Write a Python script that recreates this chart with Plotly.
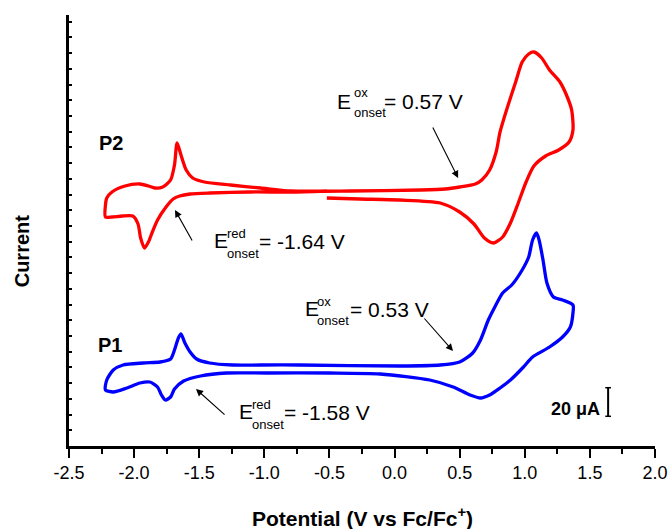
import plotly.graph_objects as go

# ---- data (potential in V vs Fc/Fc+, current in uA with arbitrary offset) ----
P2_V = [-0.52,-0.80,-1.11,-1.42,-1.57,-1.65,-1.70,-1.755,-1.82,-1.86,-1.89,-1.92,-1.95,-1.97,-2.01,-2.09,-2.17,-2.22,-2.22,-2.21,
        -2.17,-2.07,-1.955,-1.89,-1.84,-1.78,-1.72,-1.69,-1.67,-1.64,-1.60,-1.55,-1.46,-1.26,-1.03,-0.80,-0.34,0.20,0.39,0.50,
        0.62,0.67,0.73,0.78,0.81,0.86,0.93,0.98,1.03,1.07,1.13,1.19,1.27,1.32,1.36,1.37,1.34,1.26,1.16,1.07,
        1.01,0.95,0.89,0.83,0.76,0.69,0.61,0.50,0.35,0.04,-0.27,-0.52]
P2_I = [178.5,177.8,177.8,177.1,176.4,175.0,172.9,167.3,158.2,149.8,142.8,138.6,145.6,155.4,161.0,161.0,160.3,160.3,168.7,173.6,
        177.8,182.0,183.4,182.0,180.6,181.3,186.2,196.7,212.1,203.7,193.2,187.6,184.8,182.7,180.6,178.5,178.5,179.2,179.9,181.3,
        183.4,186.2,193.2,205.8,219.8,235.2,254.8,268.8,274.4,275.8,271.6,263.2,254.8,245.7,235.2,221.2,212.8,207.2,203.0,196.0,
        184.8,170.1,156.1,146.3,142.1,145.6,155.4,163.8,170.1,172.2,172.9,173.6]

P1_V = [-0.73,-1.03,-1.24,-1.42,-1.52,-1.57,-1.61,-1.64,-1.66,-1.69,-1.72,-1.80,-1.93,-2.085,-2.16,-2.21,-2.22,-2.16,-2.055,-1.955,
        -1.88,-1.82,-1.79,-1.76,-1.72,-1.69,-1.62,-1.49,-1.29,-0.98,-0.50,-0.11,0.27,0.45,0.58,0.66,0.73,0.81,0.89,0.99,
        1.06,1.19,1.29,1.35,1.37,1.37,1.29,1.22,1.17,1.14,1.11,1.09,1.06,1.03,0.98,0.90,0.83,0.77,0.72,0.66,
        0.60,0.50,0.35,0.04,-0.73]
P1_I = [56.7,56.7,56.7,58.1,60.9,65.8,72.1,78.4,75.6,67.2,60.9,58.8,58.1,56.7,53.2,46.2,39.2,37.8,40.6,44.1,
        44.8,41.3,35.7,32.2,34.3,39.9,45.5,49.0,51.1,51.1,51.1,50.4,46.2,41.3,35.7,33.6,35.7,40.6,46.2,55.3,
        62.3,69.3,76.3,83.3,93.1,98.7,102.2,104.3,114.1,130.2,144.2,149.1,144.2,132.3,123.2,112.7,107.1,97.3,88.2,74.2,
        65.1,58.8,56.7,56.0,56.7]

X_TICKS = [-2.5, -2.0, -1.5, -1.0, -0.5, 0.0, 0.5, 1.0, 1.5, 2.0]
X_TICK_LABELS = ["-2.5", "-2.0", "-1.5", "-1.0", "-0.5", "0.0", "0.5", "1.0", "1.5", "2.0"]

SCALE_BAR_UA = 20

FONT = "Liberation Sans, Arial, sans-serif"

fig = go.Figure()
fig.add_trace(go.Scatter(x=P2_V, y=P2_I, mode="lines", name="P2",
                         line=dict(color="rgb(255,0,0)", width=3.3, shape="spline", smoothing=0.7)))
fig.add_trace(go.Scatter(x=P1_V, y=P1_I, mode="lines", name="P1",
                         line=dict(color="rgb(0,0,255)", width=3.3, shape="spline", smoothing=0.7)))

ann = []
def txt(x, y, s, size, bold=False, xanchor="left"):
    ann.append(dict(x=x, y=y, xref="x", yref="y", text=("<b>%s</b>" % s) if bold else s,
                    showarrow=False, xanchor=xanchor, yanchor="middle",
                    font=dict(family=FONT, size=size, color="black")))

def onset(xE, yE, xs, ysup, ysub, xm, ym, sup, value):
    txt(xE, yE, "E", 21)
    txt(xs, ysup, sup, 13)
    txt(xs, ysub, "onset", 13)
    txt(xm, ym, "= %s" % value, 21)

onset(-0.457, 241.5, -0.327, 247.8, 233.8, -0.096, 241.3, "ox", "0.57 V")
onset(-1.402, 143.9, -1.302, 148.8, 135.1, -1.056, 143.5, "red", "-1.64 V")
onset(-0.703, 96.6, -0.611, 101.5, 88.2, -0.357, 95.9, "ox", "0.53 V")
onset(-1.21, 24.2, -1.11, 29.4, 15.4, -0.864, 23.8, "red", "-1.58 V")

def arrow(x, y, ax, ay):
    ann.append(dict(x=x, y=y, ax=ax, ay=ay, xref="x", yref="y", axref="x", ayref="y",
                    text="", showarrow=True, arrowhead=2, arrowsize=1.3, arrowwidth=1.1,
                    arrowcolor="black", standoff=0))

arrow(0.488, 187.6, 0.288, 224.0)
arrow(-1.686, 165.2, -1.548, 142.8)
arrow(0.449, 66.5, 0.219, 90.3)
arrow(-1.525, 39.9, -1.294, 21.0)

txt(-2.174, 211.8, "P2", 20, bold=True, xanchor="center")
txt(-2.185, 71.0, "P1", 20, bold=True, xanchor="center")
txt(1.593, 25.9, "%d μA" % SCALE_BAR_UA, 18, bold=True, xanchor="right")

ann.append(dict(x=-0.08, y=0.452, xref="paper", yref="paper", text="<b>Current</b>", textangle=-90,
                showarrow=False, xanchor="center", yanchor="middle",
                font=dict(family=FONT, size=20, color="black")))
ann.append(dict(x=0.5, y=-0.165, xref="paper", yref="paper",
                text="<b>Potential (V vs Fc/Fc<sup>+</sup>)</b>",
                showarrow=False, xanchor="center", yanchor="middle",
                font=dict(family=FONT, size=21, color="black")))

# scale bar
bar_x = 1.64
bar_y0 = 20.8
shapes = [
    dict(type="line", xref="x", yref="y", x0=bar_x, x1=bar_x, y0=bar_y0, y1=bar_y0 + SCALE_BAR_UA,
         line=dict(color="black", width=2)),
    dict(type="line", xref="x", yref="y", x0=bar_x - 0.022, x1=bar_x + 0.022, y0=bar_y0, y1=bar_y0,
         line=dict(color="black", width=1.5)),
    dict(type="line", xref="x", yref="y", x0=bar_x - 0.022, x1=bar_x + 0.022,
         y0=bar_y0 + SCALE_BAR_UA, y1=bar_y0 + SCALE_BAR_UA, line=dict(color="black", width=1.5)),
]

fig.update_layout(
    width=668, height=529,
    margin=dict(l=69, r=13, t=15, b=83, autoexpand=False),
    plot_bgcolor="white", paper_bgcolor="white",
    showlegend=False,
    annotations=ann, shapes=shapes,
    font=dict(family=FONT, color="black"),
)
fig.update_xaxes(range=[-2.5, 2.0], tickmode="array", tickvals=X_TICKS, ticktext=X_TICK_LABELS,
                 ticks="outside", ticklen=9, tickwidth=2.2, tickcolor="black",
                 showline=True, linewidth=2.5, linecolor="black",
                 showgrid=False, zeroline=False, automargin=False,
                 tickfont=dict(family=FONT, size=18, color="black"),
                 minor=dict(ticks="outside", dtick=0.25, tick0=-2.5, ticklen=5, tickwidth=2, tickcolor="black"))
fig.update_yaxes(range=[0, 301.7], showticklabels=False, automargin=False,
                 ticks="inside", ticklen=3, tickwidth=2, tickcolor="black", dtick=11, tick0=0,
                 showline=True, linewidth=2.5, linecolor="black",
                 showgrid=False, zeroline=False)

fig.write_html("out.html", config={"displayModeBar": False},
               post_script="document.body.style.margin='0';document.body.style.overflow='hidden';")
